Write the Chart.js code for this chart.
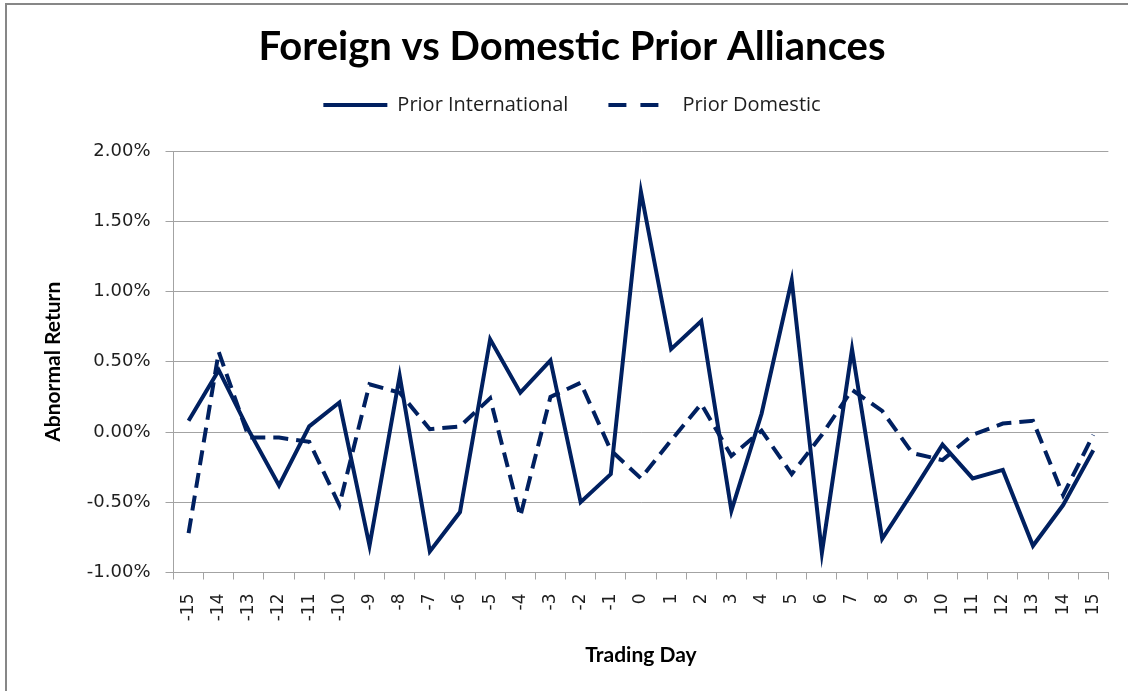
<!DOCTYPE html>
<html>
<head>
<meta charset="utf-8">
<script src="https://cdn.jsdelivr.net/npm/chart.js@4.4.1/dist/chart.umd.min.js"></script>
<style>
	body {margin: 0; background: #fff;}
	#wrap {position: relative; width: 1128px; height: 691px; overflow: hidden;}
	#frame {position: absolute; left: 5px; top: 3px; width: 1200px; height: 800px; border-top: 2px solid #878787; border-left: 2px solid #878787; pointer-events: none;}
</style>
</head>
<body>
<div id="wrap">
	<canvas id="chart" width="1128" height="691"></canvas>
	<div id="frame"></div>
</div>
<script>
// data
var days = ["-15", "-14", "-13", "-12", "-11", "-10", "-9", "-8", "-7", "-6", "-5", "-4", "-3", "-2", "-1", "0", "1", "2", "3", "4", "5", "6", "7", "8", "9", "10", "11", "12", "13", "14", "15"];
var priorIntl = [0.08, 0.44, 0.01, -0.38, 0.04, 0.21, -0.81, 0.40, -0.85, -0.57, 0.66, 0.28, 0.51, -0.50, -0.30, 1.71, 0.59, 0.79, -0.56, 0.13, 1.08, -0.86, 0.59, -0.76, -0.43, -0.09, -0.33, -0.27, -0.81, -0.52, -0.13];
var priorDom = [-0.72, 0.57, -0.04, -0.04, -0.07, -0.52, 0.34, 0.28, 0.02, 0.04, 0.24, -0.60, 0.25, 0.35, -0.13, -0.33, -0.06, 0.20, -0.17, 0.01, -0.30, -0.02, 0.30, 0.15, -0.15, -0.20, -0.02, 0.06, 0.08, -0.45, -0.02];
var yTicks = [-1, -0.5, 0, 0.5, 1, 1.5, 2];

var navy = "#002060";
var gridColor = "#a3a3a3";
var tickColor = "#1e1e1e";

// legend height fix (push plot down)
var legendFix = {
	id: "legendFix",
	beforeInit: function(chart) {
		var fit = chart.legend.fit;
		chart.legend.fit = function() {
			fit.call(this);
			this.height = 96;
		};
	}
};

var chart = new Chart(document.getElementById("chart"), {
	type: "line",
	data: {
		labels: days,
		datasets: [{
			label: "Prior International",
			data: priorIntl,
			borderColor: navy,
			backgroundColor: navy,
			borderWidth: 4,
			borderJoinStyle: "miter",
			pointRadius: 0,
			tension: 0
		}, {
			label: "Prior Domestic",
			data: priorDom,
			borderColor: navy,
			backgroundColor: navy,
			borderWidth: 4,
			borderDash: [15, 8],
			borderJoinStyle: "miter",
			pointRadius: 0,
			tension: 0
		}]
	},
	options: {
		responsive: false,
		animation: false,
		devicePixelRatio: 1,
		layout: {
			padding: {left: 35.5, right: 19.5, top: 0, bottom: 0}
		},
		plugins: {
			title: {
				display: true,
				text: "Foreign vs Domestic Prior Alliances",
				color: "#000",
				font: {family: "Lato", size: 40, weight: "bold"},
				padding: {top: 23, bottom: -16}
			},
			legend: {
				display: true,
				position: "top",
				labels: {
					usePointStyle: true,
					pointStyle: "line",
					pointStyleWidth: 64,
					padding: 40,
					color: tickColor,
					font: {family: "Open Sans", size: 20},
					generateLabels: function(ch) {
						var items = Chart.defaults.plugins.legend.labels.generateLabels(ch);
						items.forEach(function(it, i) {
							if(i == 1) it.lineDash = [18, 14];
						});
						return items;
					}
				}
			},
			tooltip: {enabled: false}
		},
		scales: {
			x: {
				type: "category",
				offset: true,
				afterFit: function(s) { s.height = 118.5; },
				grid: {
					offset: true,
					drawOnChartArea: false,
					drawTicks: true,
					tickLength: 7,
					color: gridColor
				},
				border: {color: gridColor, width: 1},
				ticks: {
					autoSkip: false,
					minRotation: 90,
					maxRotation: 90,
					padding: 14,
					color: tickColor,
					font: {family: "DejaVu Sans", size: 17}
				},
				title: {
					display: true,
					text: "Trading Day",
					color: "#000",
					font: {family: "Lato", size: 21, weight: "bold"},
					padding: {top: 0, bottom: 23.4}
				}
			},
			y: {
				min: -1,
				max: 2,
				afterFit: function(s) { s.width = 138; },
				afterBuildTicks: function(s) {
					s.ticks = yTicks.map(function(v) { return {value: v}; });
				},
				grid: {
					color: gridColor,
					tickLength: 8
				},
				border: {color: gridColor, width: 1},
				ticks: {
					padding: 15,
					color: tickColor,
					font: {family: "DejaVu Sans", size: 18},
					callback: function(v) { return v.toFixed(2) + "%"; }
				},
				title: {
					display: true,
					text: "Abnormal Return",
					color: "#000",
					font: {family: "Lato", size: 21, weight: "bold"},
					padding: {top: 4.9, bottom: 0}
				}
			}
		}
	},
	plugins: [legendFix]
});
</script>
</body>
</html>
